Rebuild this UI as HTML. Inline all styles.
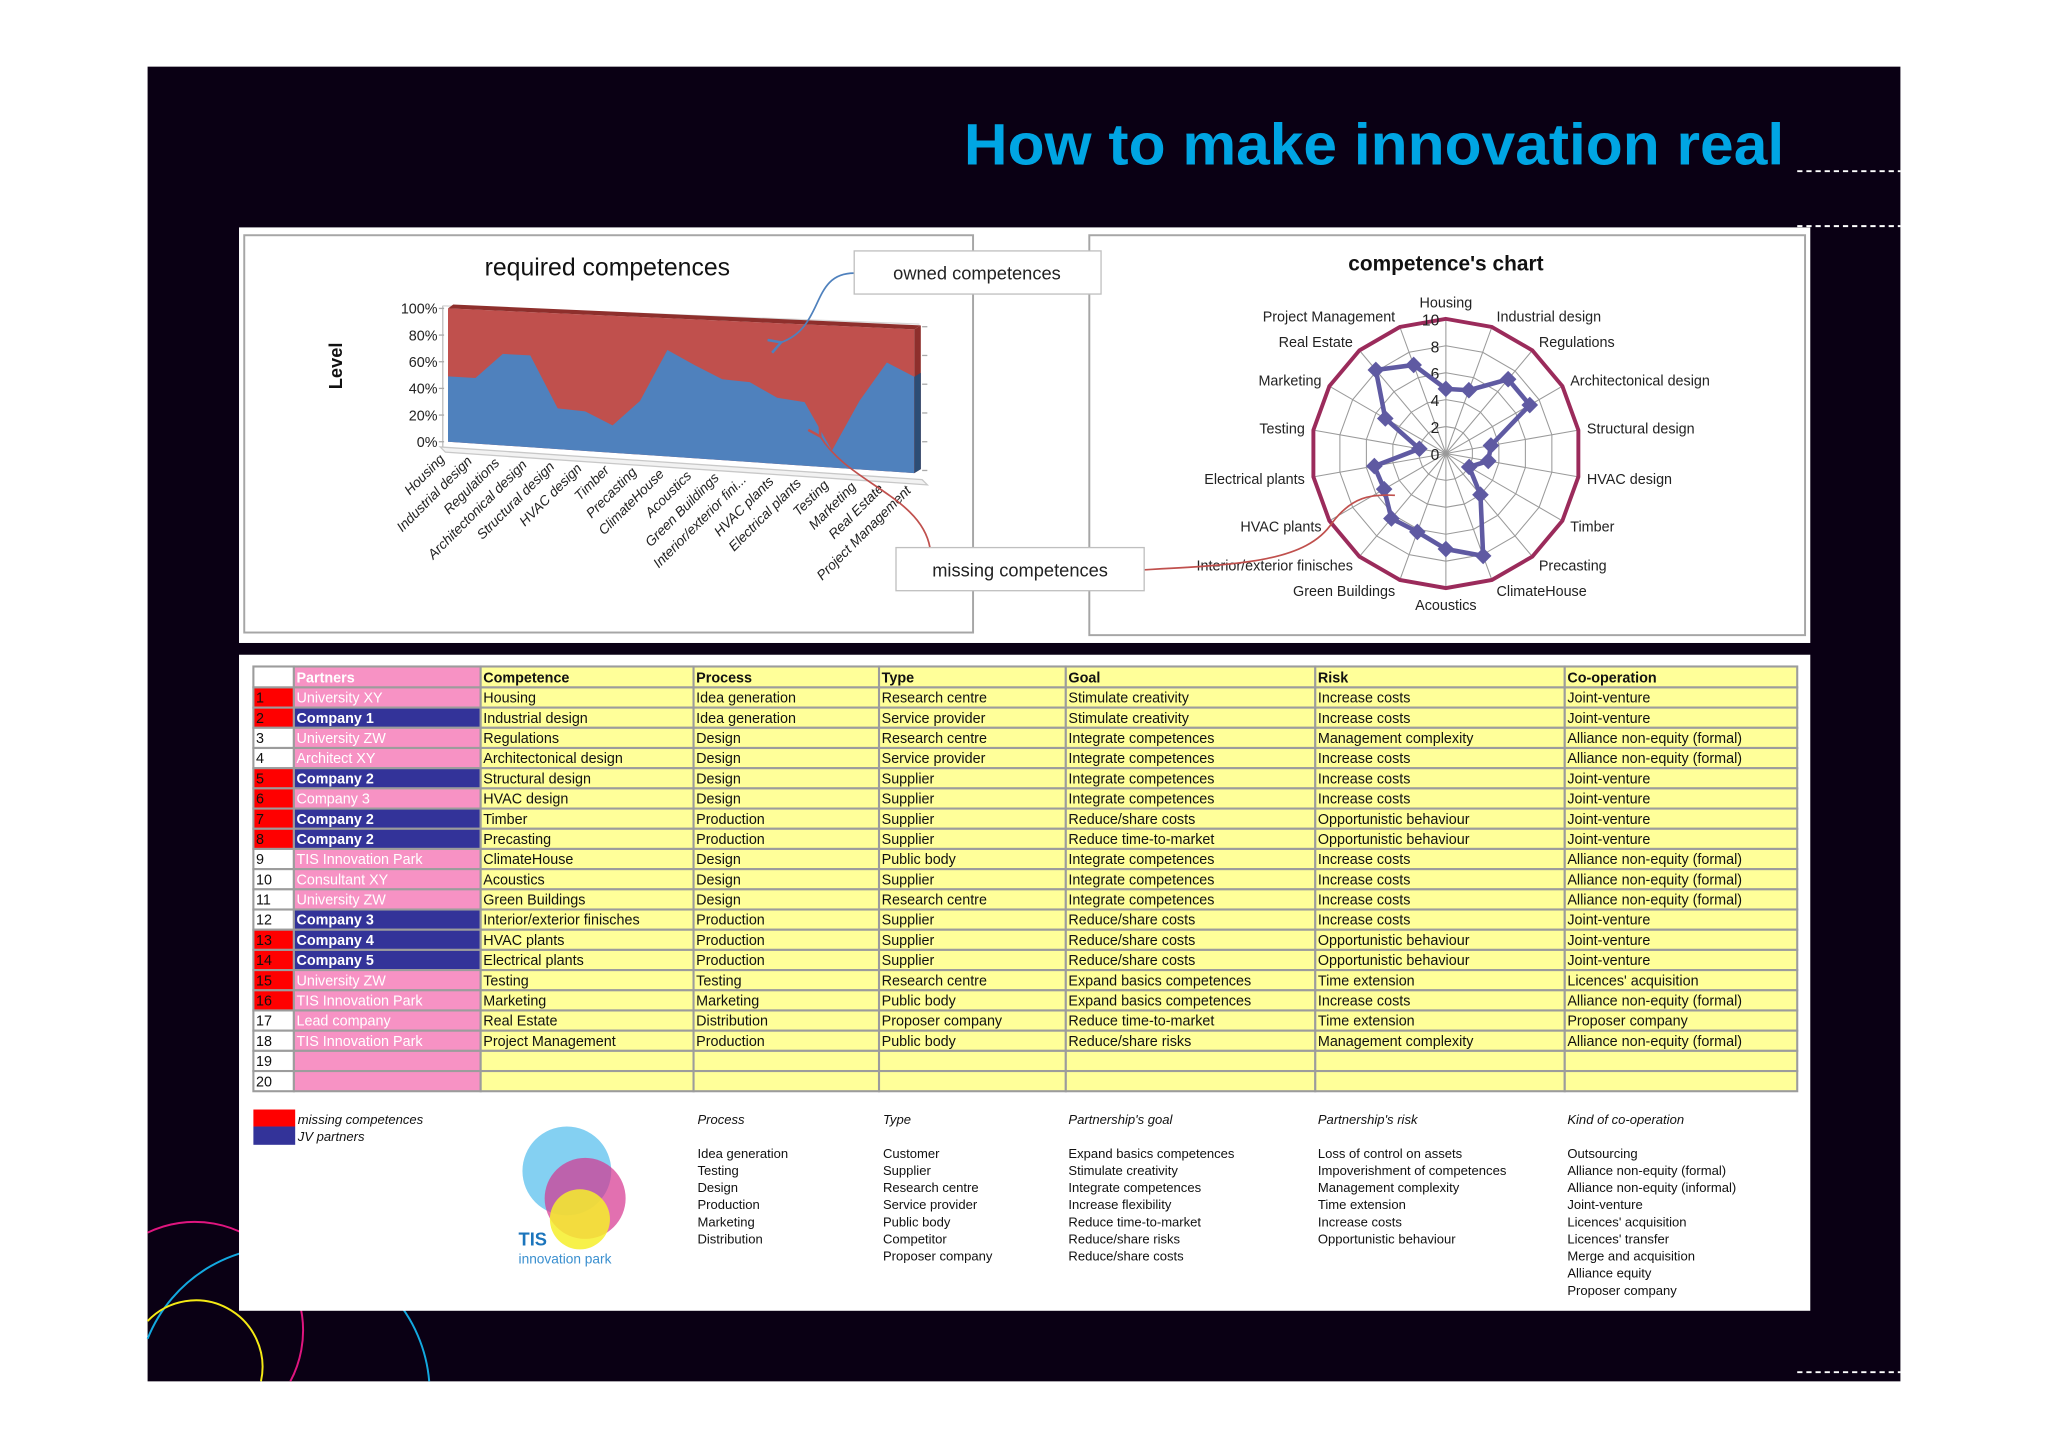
<!DOCTYPE html>
<html><head><meta charset="utf-8"><style>
html,body{margin:0;padding:0;background:#fff;width:2048px;height:1448px;overflow:hidden;}
svg{display:block;font-family:"Liberation Sans",Arial,sans-serif;}
</style></head><body>
<svg id="root" width="2048" height="1448" viewBox="0 0 1568 1108" preserveAspectRatio="none" xmlns="http://www.w3.org/2000/svg">
<defs>
<marker id="arrB" markerWidth="10" markerHeight="10" refX="2" refY="5" orient="auto"><path d="M9,1 L2,5 L9,9" fill="none" stroke="#4f81bd" stroke-width="1.5"/></marker>
<marker id="arrR" markerWidth="10" markerHeight="10" refX="2" refY="5" orient="auto"><path d="M9,1 L2,5 L9,9" fill="none" stroke="#c0504d" stroke-width="1.5"/></marker>
</defs>
<rect x="0" y="0" width="1568" height="1108" fill="#ffffff"/>
<rect x="113" y="51" width="1342" height="1006" fill="#0a0014"/>
<g fill="none" stroke-width="1.5">
<path d="M113,943.2 A83,83 0 0 1 222.3,1057" stroke="#e0157f"/>
<path d="M113,1024.4 A112,112 0 0 1 328.6,1057" stroke="#13a9e0"/>
<path d="M113,1010.9 A51,51 0 0 1 199.8,1057" stroke="#f5ea14"/>
</g>
<text x="1366" y="126" text-anchor="end" font-size="45" font-weight="bold" fill="#00a5e3" textLength="628" lengthAdjust="spacingAndGlyphs">How to make innovation real</text>
<g stroke="#ffffff" stroke-width="1.5" stroke-dasharray="4,3">
<line x1="1376" y1="131" x2="1455" y2="131"/><line x1="1376" y1="173" x2="1455" y2="173"/><line x1="1376" y1="1050" x2="1455" y2="1050"/>
</g>
<rect x="183" y="174" width="1203" height="318" fill="#ffffff"/>
<rect x="183" y="501" width="1203" height="502" fill="#ffffff"/>
<rect x="187" y="180" width="558" height="304" fill="#fff" stroke="#a6a6a6" stroke-width="1.5"/>
<rect x="834" y="180" width="548" height="306" fill="#fff" stroke="#a6a6a6" stroke-width="1.5"/>
<g id="area"></g>
<g id="radar"></g>
<g id="callouts">
<path d="M654,209 C620,209 632,250 598,262" fill="none" stroke="#4f81bd" stroke-width="1.3" marker-end="url(#arrB)"/>
<path d="M712,419 C705,380 650,370 628,334" fill="none" stroke="#c0504d" stroke-width="1.3" marker-end="url(#arrR)"/>
<path d="M876,436 C950,432 1000,430 1020,400 C1035,380 1050,378 1068,379" fill="none" stroke="#c0504d" stroke-width="1.3"/>
<rect x="654" y="192" width="189" height="33" fill="#fff" stroke="#bfbfbf"/>
<text x="748" y="214" font-size="14" text-anchor="middle" fill="#222">owned competences</text>
<rect x="686" y="419" width="190" height="33" fill="#fff" stroke="#bfbfbf"/>
<text x="781" y="441" font-size="14" text-anchor="middle" fill="#222">missing competences</text>
</g>
<g id="table"></g>
<g id="legend"></g>
<g>
<circle cx="434" cy="896" r="34" fill="#5bc0ee" opacity="0.75"/>
<circle cx="448" cy="917" r="31" fill="#d6338f" opacity="0.7"/>
<circle cx="444" cy="933" r="23" fill="#f6ee2a" opacity="0.85"/>
<text x="397" y="953" font-size="14" font-weight="bold" fill="#1c75bc">TIS</text>
<text x="397" y="967" font-size="10.5" fill="#3a8fcf">innovation park</text>
</g>
</svg>
<script>
const NS="http://www.w3.org/2000/svg";
// ---- area chart data ----
const areaCategories=["Housing","Industrial design","Regulations","Architectonical design","Structural design","HVAC design","Timber","Precasting","ClimateHouse","Acoustics","Green Buildings","Interior/exterior fini...","HVAC plants","Electrical plants","Testing","Marketing","Real Estate","Project Management"];
const ownedShare=[0.49,0.49,0.68,0.68,0.30,0.29,0.20,0.39,0.77,0.67,0.58,0.57,0.47,0.45,0.12,0.48,0.76,0.67];
const yTickLabels=["0%","20%","40%","60%","80%","100%"];
const yTickValues=[0,0.2,0.4,0.6,0.8,1];
// ---- radar data ----
const radarLabels=["Housing","Industrial design","Regulations","Architectonical design","Structural design","HVAC design","Timber","Precasting","ClimateHouse","Acoustics","Green Buildings","Interior/exterior finisches","HVAC plants","Electrical plants","Testing","Marketing","Real Estate","Project Management"];
const radarValues=[4.8,5,7.2,7.2,3.4,3.2,2,4,8.1,7.1,6.2,6.3,5.3,5.4,2,5.2,8.1,7];
const radarTicks=[0,2,4,6,8,10];
// ---- table data ----
const tableHeaders=["","Partners","Competence","Process","Type","Goal","Risk","Co-operation"];
const partners=["University XY","Company 1","University ZW","Architect XY","Company 2","Company 3","Company 2","Company 2","TIS Innovation Park","Consultant XY","University ZW","Company 3","Company 4","Company 5","University ZW","TIS Innovation Park","Lead company","TIS Innovation Park","",""];
const jvFlags=[0,1,0,0,1,0,1,1,0,0,0,1,1,1,0,0,0,0,0,0];
const missingFlags=[1,1,0,0,1,1,1,1,0,0,0,0,1,1,1,1,0,0,0,0];
const competences=["Housing","Industrial design","Regulations","Architectonical design","Structural design","HVAC design","Timber","Precasting","ClimateHouse","Acoustics","Green Buildings","Interior/exterior finisches","HVAC plants","Electrical plants","Testing","Marketing","Real Estate","Project Management","",""];
const processes=["Idea generation","Idea generation","Design","Design","Design","Design","Production","Production","Design","Design","Design","Production","Production","Production","Testing","Marketing","Distribution","Production","",""];
const types=["Research centre","Service provider","Research centre","Service provider","Supplier","Supplier","Supplier","Supplier","Public body","Supplier","Research centre","Supplier","Supplier","Supplier","Research centre","Public body","Proposer company","Public body","",""];
const goals=["Stimulate creativity","Stimulate creativity","Integrate competences","Integrate competences","Integrate competences","Integrate competences","Reduce/share costs","Reduce time-to-market","Integrate competences","Integrate competences","Integrate competences","Reduce/share costs","Reduce/share costs","Reduce/share costs","Expand basics competences","Expand basics competences","Reduce time-to-market","Reduce/share risks","",""];
const risks=["Increase costs","Increase costs","Management complexity","Increase costs","Increase costs","Increase costs","Opportunistic behaviour","Opportunistic behaviour","Increase costs","Increase costs","Increase costs","Increase costs","Opportunistic behaviour","Opportunistic behaviour","Time extension","Increase costs","Time extension","Management complexity","",""];
const coops=["Joint-venture","Joint-venture","Alliance non-equity (formal)","Alliance non-equity (formal)","Joint-venture","Joint-venture","Joint-venture","Joint-venture","Alliance non-equity (formal)","Alliance non-equity (formal)","Alliance non-equity (formal)","Joint-venture","Joint-venture","Joint-venture","Licences' acquisition","Alliance non-equity (formal)","Proposer company","Alliance non-equity (formal)","",""];
// ---- legend lists ----
const legendHeads=["Process","Type","Partnership's goal","Partnership's risk","Kind of co-operation"];
const legendProcess=["Idea generation","Testing","Design","Production","Marketing","Distribution"];
const legendType=["Customer","Supplier","Research centre","Service provider","Public body","Competitor","Proposer company"];
const legendGoal=["Expand basics competences","Stimulate creativity","Integrate competences","Increase flexibility","Reduce time-to-market","Reduce/share risks","Reduce/share costs"];
const legendRisk=["Loss of control on assets","Impoverishment of competences","Management complexity","Time extension","Increase costs","Opportunistic behaviour"];
const legendCoop=["Outsourcing","Alliance non-equity (formal)","Alliance non-equity (informal)","Joint-venture","Licences' acquisition","Licences' transfer","Merge and acquisition","Alliance equity","Proposer company"];

function mk(tag,attrs,parent,txt){const e=document.createElementNS(NS,tag);for(const k in attrs)e.setAttribute(k,attrs[k]);if(txt!==undefined)e.textContent=txt;parent.appendChild(e);return e;}

// ===== area chart =====
(function(){
const g=document.getElementById('area');
const X0=343,X1=700,B0=338,B1=362,T0=236,T1=252;
const n=areaCategories.length;
const xAt=i=>X0+i*(X1-X0)/(n-1);
const base=x=>B0+(x-X0)*(B1-B0)/(X1-X0);
const top=x=>T0+(x-X0)*(T1-T0)/(X1-X0);
const yAt=(x,v)=>base(x)-v*(base(x)-top(x));
let t=mk('text',{x:465,y:211,'font-size':19,'text-anchor':'middle',fill:'#111'},g,'required competences');


t=mk('text',{x:0,y:0,'font-size':14,'font-weight':'bold','text-anchor':'middle',fill:'#111',transform:'translate(262,280) rotate(-90)'},g,'Level');


mk('polygon',{points:`${X0-6},${B0+4} ${X1+6},${B1+5} ${X1+10},${B1+9} ${X0-2},${B0+8}`,fill:'#f2f2f2',stroke:'#c8c8c8','stroke-width':1},g);
mk('line',{x1:X0-4,y1:T0-2,x2:X0-4,y2:B0+4,stroke:'#bdbdbd'},g);
mk('line',{x1:X0-4,y1:T0-2,x2:X1+4,y2:T1-4,stroke:'#d8d8d8'},g);
yTickValues.forEach((v,i)=>{const y=yAt(X0,v);
 const l=mk('text',{x:X0-8,y:y+4,'font-size':11,'text-anchor':'end',fill:'#222'},g,yTickLabels[i]);
 
 
 mk('line',{x1:X0-7,y1:y,x2:X0-3,y2:y,stroke:'#aaa'},g);
 mk('line',{x1:X1+6,y1:yAt(X1,v)-2,x2:X1+10,y2:yAt(X1,v)-2,stroke:'#aaa'},g);});
let red=`${X0},${top(X0)} ${X1},${top(X1)} ${X1},${base(X1)} ${X0},${base(X0)}`;
let rp=mk('polygon',{points:red,fill:'#c0504d'},g);


mk('polygon',{points:`${X0},${top(X0)} ${X0+4},${top(X0)-3} ${X1+5},${top(X1)-3} ${X1},${top(X1)}`,fill:'#8e2f2c'},g);
let pts=[];areaCategories.forEach((c,i)=>{const x=xAt(i);pts.push(`${x},${yAt(x,ownedShare[i])}`);});
pts.push(`${X1},${base(X1)}`,`${X0},${base(X0)}`);
let bp=mk('polygon',{points:pts.join(' '),fill:'#4f81bd'},g);


const vEnd=ownedShare[n-1];
mk('polygon',{points:`${X1},${top(X1)} ${X1+5},${top(X1)-3} ${X1+5},${base(X1)-3} ${X1},${base(X1)}`,fill:'#8e2f2c'},g);
mk('polygon',{points:`${X1},${yAt(X1,vEnd)} ${X1+5},${yAt(X1,vEnd)-3} ${X1+5},${base(X1)-3} ${X1},${base(X1)}`,fill:'#2c4d75'},g);
areaCategories.forEach((c,i)=>{const x=xAt(i),y=base(x)+10;
 const l=mk('text',{x:0,y:0,'font-size':10.5,'font-style':'italic','text-anchor':'end',fill:'#222',transform:`translate(${x-2},${y+4}) rotate(-45)`},g,c);
 
 });
})();

// ===== radar =====
(function(){
const g=document.getElementById('radar');
const cx=1107,cy=347,R=103,n=radarLabels.length,max=10;
const pt=(i,v)=>{const a=i*2*Math.PI/n;return [cx+Math.sin(a)*R*v/max, cy-Math.cos(a)*R*v/max];};
let t=mk('text',{x:1107,y:207,'font-size':16,'font-weight':'bold','text-anchor':'middle',fill:'#111'},g,"competence's chart");


radarTicks.slice(1,5).forEach(v=>{const p=radarLabels.map((l,i)=>pt(i,v).join(',')).join(' ');mk('polygon',{points:p,fill:'none',stroke:'#9a9a9a','stroke-width':0.8},g);});
radarLabels.forEach((l,i)=>{const [x,y]=pt(i,max);mk('line',{x1:cx,y1:cy,x2:x,y2:y,stroke:'#9a9a9a','stroke-width':0.8},g);});
let outer=mk('polygon',{points:radarLabels.map((l,i)=>pt(i,max).join(',')).join(' '),fill:'none',stroke:'#9b2b5b','stroke-width':3},g);


radarTicks.forEach(v=>{const y=cy-R*v/max;const l=mk('text',{x:cx-5,y:y+5,'font-size':12,'text-anchor':'end',fill:'#222'},g,String(v));
 
 });
const series=radarValues.map((v,i)=>pt(i,v).join(',')).join(' ');
let s=mk('polygon',{points:series,fill:'none',stroke:'#5f5aa2','stroke-width':3.5},g);


radarValues.forEach((v,i)=>{const [x,y]=pt(i,v);const m=mk('rect',{x:x-4.5,y:y-4.5,width:9,height:9,fill:'#5f5aa2',transform:`rotate(45 ${x} ${y})`},g);
 
 });
radarLabels.forEach((l,i)=>{const a=i*2*Math.PI/n;const s=Math.sin(a),c=Math.cos(a);
 const [x,y]=pt(i,10.45);
 const anc=Math.abs(s)<0.1?'middle':(s>0?'start':'end');
 const dy=Math.abs(s)<0.1?(c>0?-4:12):4+(-c*4);
 const t=mk('text',{x:x+(anc==='start'?2:anc==='end'?-2:0),y:y+dy,'font-size':11,'text-anchor':anc,fill:'#222'},g,l);
 
 });
})();

// ===== table =====
(function(){
const g=document.getElementById('table');
const colX=[194,225,368,531,673,816,1007,1198,1376];
const y0=510,hh=16,rh=15.45;
const cols=[competences,processes,types,goals,risks,coops];
function cell(x,y,w,h,fill,text,color,bold){
 mk('rect',{x:x,y:y,width:w,height:h,fill:fill,stroke:'#9c9c9c','stroke-width':1.6},g);
 if(text){mk('text',{x:x+2,y:y+h-3.8,'font-size':11,fill:color,'font-weight':bold?'bold':'normal'},g,text);}
}
tableHeaders.forEach((h,c)=>{cell(colX[c],y0,colX[c+1]-colX[c],hh,c===0?'#ffffff':(c===1?'#f792c4':'#ffff99'),h,c===1?'#ffffff':'#111',true);});
partners.forEach((p,r)=>{const y=y0+hh+r*rh;
 cell(colX[0],y,colX[1]-colX[0],rh,missingFlags[r]?'#ff0000':'#ffffff',String(r+1),'#111',false);
 cell(colX[1],y,colX[2]-colX[1],rh,jvFlags[r]?'#333399':'#f792c4',p,'#ffffff',jvFlags[r]===1);
 cols.forEach((col,c)=>cell(colX[c+2],y,colX[c+3]-colX[c+2],rh,'#ffff99',col[r],'#111',false));
});
g.querySelectorAll('rect').forEach(e=>{});
})();

// ===== legend =====
(function(){
const g=document.getElementById('legend');
let r=mk('rect',{x:194,y:849,width:32,height:13,fill:'#ff0000'},g);


r=mk('rect',{x:194,y:862,width:32,height:14,fill:'#333399'},g);


mk('text',{x:228,y:860,'font-size':10,'font-style':'italic',fill:'#111'},g,'missing competences');
mk('text',{x:228,y:873,'font-size':10,'font-style':'italic',fill:'#111'},g,'JV partners');
const xs=[534,676,818,1009,1200];
const lists=[legendProcess,legendType,legendGoal,legendRisk,legendCoop];
legendHeads.forEach((h,i)=>{const t=mk('text',{x:xs[i],y:860,'font-size':10,'font-style':'italic',fill:'#111'},g,h);
 
 
 lists[i].forEach((s,j)=>{const e=mk('text',{x:xs[i],y:886+j*13.1,'font-size':10,fill:'#111'},g,s);
  
  });});
})();
</script>
</body></html>
